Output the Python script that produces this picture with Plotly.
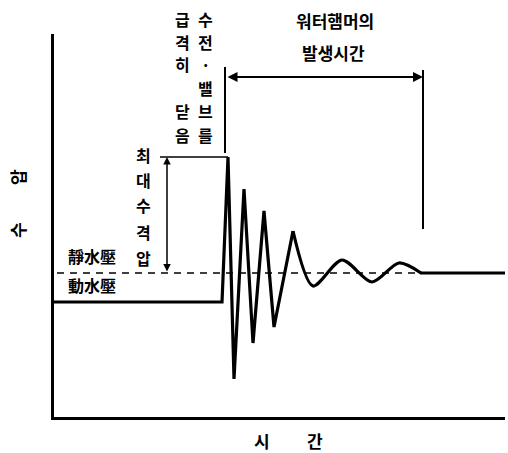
import plotly.graph_objects as go

# ---- data (time / pressure in arbitrary units) ----
surge_time = [0, 168, 174, 180, 190, 199, 210, 220, 239]
surge_pressure = [115, 115, 260, 38, 228, 74, 206, 90, 186]
decay_time = [239, 259, 288, 318, 345, 367]
decay_pressure = [186, 131, 157, 135, 154, 144]
steady_time = [366, 451]
steady_pressure = [144, 144]
static_time = [3, 366]
static_pressure = [144, 144]
valve_close_time = 171
hammer_end_time = 369
max_pressure = 260

FONT = "Noto Sans CJK KR"
W, H = 508, 453
X0, X1, Y0, Y1 = 54, 505, 34, 417   # plot area in pixels
L, T, R, B = X0, Y0, W - X1, H - Y1

def px(xs):
    return xs - X0

def py(ys):
    return Y1 - ys

def ppx(xs):
    return (xs - X0) / (X1 - X0)

def ppy(ys):
    return (Y1 - ys) / (Y1 - Y0)

fig = go.Figure()
fig.add_trace(go.Scatter(x=static_time, y=static_pressure, mode="lines",
                         line=dict(color="black", width=1.6, dash="7px,6px"),
                         hoverinfo="skip"))
fig.add_trace(go.Scatter(x=surge_time, y=surge_pressure, mode="lines",
                         line=dict(color="black", width=3.2), hoverinfo="skip"))
fig.add_trace(go.Scatter(x=decay_time, y=decay_pressure, mode="lines",
                         line=dict(color="black", width=3.2, shape="spline", smoothing=0.8),
                         hoverinfo="skip"))
fig.add_trace(go.Scatter(x=steady_time, y=steady_pressure, mode="lines",
                         line=dict(color="black", width=3.2), hoverinfo="skip"))

shapes = [
    dict(type="line", x0=valve_close_time, x1=valve_close_time, y0=py(67), y1=py(153),
         line=dict(color="black", width=2)),
    dict(type="line", x0=hammer_end_time, x1=hammer_end_time, y0=py(70), y1=py(229),
         line=dict(color="black", width=2)),
    dict(type="line", x0=px(160), x1=surge_time[2], y0=max_pressure, y1=max_pressure,
         line=dict(color="black", width=1.5)),
]

ann = []
ann.append(dict(x=hammer_end_time, y=py(77), ax=valve_close_time + 1, ay=py(77),
                xref="x", yref="y", axref="x", ayref="y", text="", showarrow=True,
                arrowhead=2, arrowsize=1, arrowwidth=2, arrowside="end+start",
                arrowcolor="black", startarrowhead=2, startarrowsize=1))
ann.append(dict(x=px(167), y=max_pressure, ax=px(167), ay=static_pressure[0],
                xref="x", yref="y", axref="x", ayref="y", text="", showarrow=True,
                arrowhead=2, arrowsize=1, arrowwidth=1.5, arrowside="end+start",
                arrowcolor="black", startarrowhead=2, startarrowsize=1))

def txt(s, xs, ys, size=16, angle=0):
    ann.append(dict(x=ppx(xs), y=ppy(ys), xref="paper", yref="paper",
                    text="<b>%s</b>" % s, showarrow=False, textangle=angle,
                    xanchor="center", yanchor="middle",
                    font=dict(family=FONT, size=size, color="black")))

col1 = [("급", 19), ("격", 42), ("히", 64), ("닫", 111), ("음", 135)]
col2 = [("수", 19), ("전", 42), ("·", 64), ("밸", 88), ("브", 111), ("를", 135)]
for ch, yy in col1:
    txt(ch, 182, yy)
for ch, yy in col2:
    txt(ch, 205, yy)

txt("워터햄머의", 335, 20, size=17)
txt("발생시간", 333, 52, size=17)

for ch, yy in [("최", 155), ("대", 180), ("수", 205), ("격", 232), ("압", 258)]:
    txt(ch, 143, yy)

txt("靜水壓", 92, 256, size=16)
txt("動水壓", 92, 285, size=16)

txt("압", 17, 177, size=17, angle=-90)
txt("수", 17, 230, size=17, angle=-90)
txt("시", 262, 440, size=17)
txt("간", 315, 440, size=17)

fig.update_layout(
    width=W, height=H,
    margin=dict(l=L, r=R, t=T, b=B),
    paper_bgcolor="white", plot_bgcolor="white",
    showlegend=False,
    shapes=shapes, annotations=ann,
    xaxis=dict(range=[0, X1 - X0], showgrid=False, zeroline=False, showticklabels=False,
               ticks="", showline=True, linecolor="black", linewidth=3, fixedrange=True),
    yaxis=dict(range=[0, Y1 - Y0], showgrid=False, zeroline=False, showticklabels=False,
               ticks="", showline=True, linecolor="black", linewidth=3, fixedrange=True),
)
fig.write_html("out.html", config={"displayModeBar": False},
               post_script="document.body.style.margin='0';document.body.style.overflow='hidden';")
